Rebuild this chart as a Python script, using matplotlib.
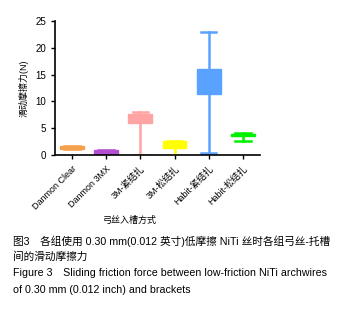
import matplotlib.pyplot as plt

plt.rcParams['font.family'] = ['Liberation Sans', 'Noto Sans CJK SC', 'DejaVu Sans']

groups = ['Danmon Clear', 'Danmon 3MX', '3M-紧结扎', '3M-松结扎', 'Habit-紧结扎', 'Habit-松结扎']
mins = [1.1, 0.0, 0.0, 0.0, 0.4, 2.7]
q1s = [1.2, 0.1, 6.0, 1.3, 11.3, 3.5]
meds = [1.4, 0.6, 7.4, 2.4, 15.5, 3.9]
q3s = [1.6, 1.0, 7.7, 2.6, 16.0, 4.0]
maxs = [1.7, 1.0, 8.1, 2.7, 23.0, 4.2]
colors = ['#F5A04A', '#B24FD0', '#FFA3A3', '#FFFF00', '#5AA2FF', '#00F000']

fig = plt.figure(figsize=(3.43, 3.10), dpi=100)
ax = fig.add_axes([0.16, 0.50, 0.598, 0.432])

stats = []
for i in range(len(groups)):
    stats.append(dict(whislo=mins[i], q1=q1s[i], med=meds[i], q3=q3s[i], whishi=maxs[i]))

bp = ax.bxp(stats, positions=range(len(groups)), widths=0.7, patch_artist=True,
            showfliers=False, capwidths=0.45)
for i, c in enumerate(colors):
    bp['boxes'][i].set(facecolor=c, edgecolor=c, linewidth=1)
    bp['medians'][i].set(color=c, linewidth=1)
    for ln in bp['whiskers'][2*i:2*i+2] + bp['caps'][2*i:2*i+2]:
        ln.set(color=c, linewidth=1.8)

ax.set_xlim(-0.5, 5.5)
ax.set_ylim(0, 25)
ax.set_yticks([0, 5, 10, 15, 20, 25])
ax.set_xticks(range(len(groups)))
ax.set_xticklabels(groups, rotation=45, ha='right', rotation_mode='anchor', fontsize=6.5)
ax.tick_params(axis='y', labelsize=7, length=3, width=1)
ax.tick_params(axis='x', length=3, width=1)
for s in ['top', 'right']:
    ax.spines[s].set_visible(False)
for s in ['left', 'bottom']:
    ax.spines[s].set_linewidth(1.2)
ax.set_ylabel('滑动摩擦力(N)', fontsize=6.5, labelpad=5)
ax.set_xlabel('弓丝入槽方式', fontsize=6.5)
ax.xaxis.set_label_coords(0.366, -0.455)

cap_kw = dict(fontsize=7.7, ha='left', va='center')
fig.text(0.038, 0.222, '图3　各组使用 0.30 mm(0.012 英寸)低摩擦 NiTi 丝时各组弓丝-托槽', **cap_kw)
fig.text(0.038, 0.172, '间的滑动摩擦力', **cap_kw)
fig.text(0.038, 0.118, 'Figure 3　Sliding friction force between low-friction NiTi archwires', **cap_kw)
fig.text(0.038, 0.066, 'of 0.30 mm (0.012 inch) and brackets', **cap_kw)

fig.savefig('out.png', dpi=100)
